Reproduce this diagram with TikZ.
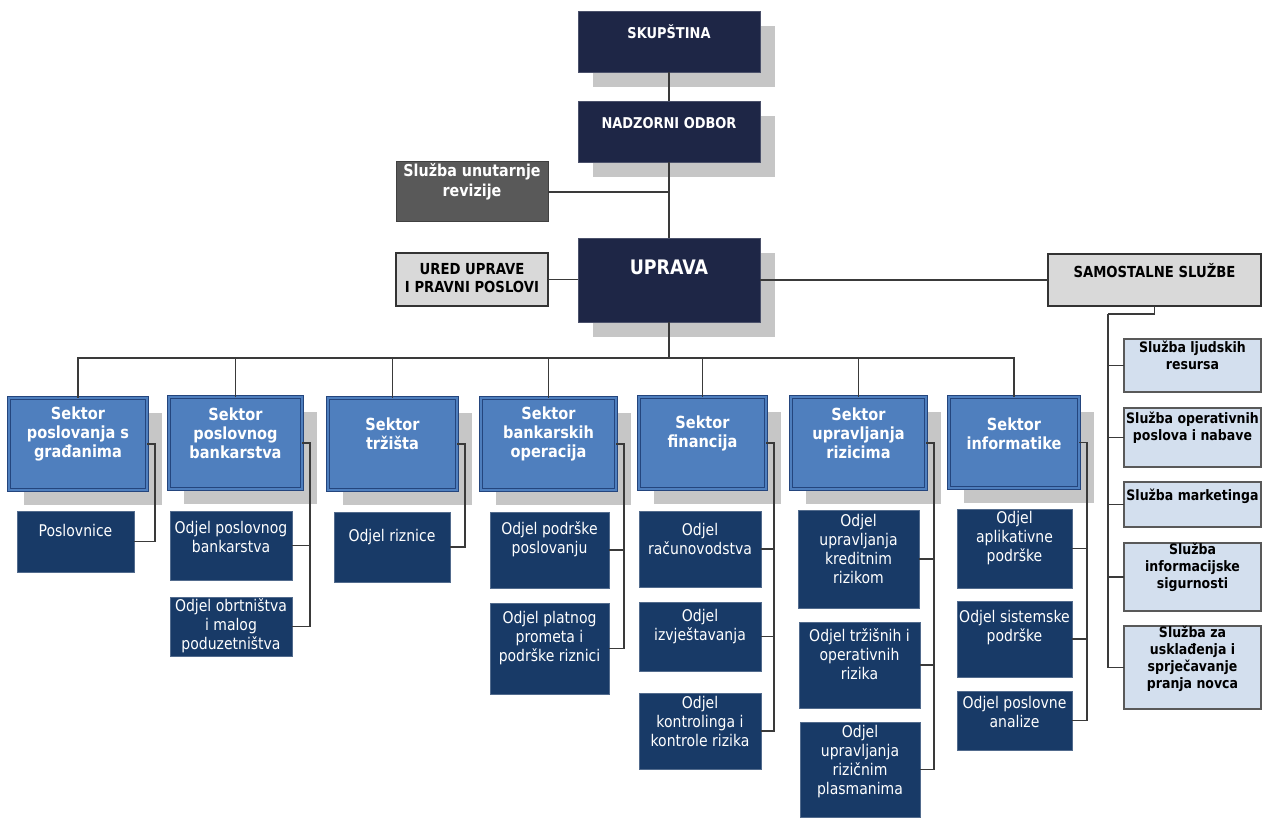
\documentclass[tikz,border=0pt]{standalone}
\usepackage{fontspec}
\setmainfont{DejaVu Sans}[FakeStretch=0.87]
\usetikzlibrary{shadows,calc}
\definecolor{navy}{HTML}{1E2646}
\definecolor{secblue}{HTML}{4F7FBE}
\definecolor{secedge}{HTML}{24457D}
\definecolor{childc}{HTML}{183A67}
\definecolor{shd}{HTML}{C6C6C6}
\definecolor{revg}{HTML}{595959}
\definecolor{lgray}{HTML}{D9D9D9}
\definecolor{lblue}{HTML}{D3DFEE}
\definecolor{connc}{HTML}{3A3A3A}
\tikzset{
  boxbase/.style={inner sep=0pt, outer sep=0pt},
  topbox/.style={boxbase, fill=navy, draw=navy!80!white, line width=0.6pt,
    drop shadow={shadow xshift=15pt, shadow yshift=-15pt, fill=shd, opacity=1}},
  secbox/.style={boxbase, fill=secblue, draw=secedge, line width=0.9pt,
    double=secblue, double distance=2.4pt,
    drop shadow={shadow xshift=15pt, shadow yshift=-15pt, fill=shd, opacity=1}},
  chbox/.style={boxbase, fill=childc, draw=childc!75!white, line width=0.6pt},
  revbox/.style={boxbase, fill=revg, draw=black!75, line width=1pt},
  graybox/.style={boxbase, fill=lgray, draw=black!80, line width=1.2pt},
  rbox/.style={boxbase, fill=lblue, draw=black!65, line width=1.2pt},
  toptxt/.style={text=white, align=center, font=\bfseries\fontsize{14.9}{19}\selectfont},
  uprtxt/.style={text=white, align=center, font=\bfseries\fontsize{20}{22}\selectfont},
  revtxt/.style={text=white, align=center, font=\bfseries\fontsize{16.4}{20}\selectfont},
  blktxt/.style={text=black, align=center, font=\bfseries\fontsize{15.2}{18}\selectfont},
  sectxt/.style={text=white, align=center, font=\bfseries\fontsize{16.7}{19}\selectfont},
  chtxt/.style={text=white, align=center, font=\fontsize{16.1}{19}\selectfont},
  rtxt/.style={text=black, align=center, font=\bfseries\fontsize{14.4}{17}\selectfont},
  conn/.style={draw=connc, line width=1.2pt},
}
% style, name, x1, y1, x2, y2, text style, text y, text
\newcommand\bxt[9]{%
  \node[#1, anchor=north west, minimum width={(#5-#3)*1pt}, minimum height={(#6-#4)*1pt}] (#2) at (#3,#4) {};
  \node[#7, inner sep=0pt] (#2t) at (#2.north |- 0,#8) {#9};
}
\begin{document}
\begin{tikzpicture}[x=1pt,y=-1pt]
\fill[white] (0,0) rectangle (1264,818);
\useasboundingbox (0,0) rectangle (1264,818);

% top
\bxt{topbox}{sk}{578}{11}{760}{72}{toptxt}{32}{SKUPŠTINA}
\bxt{topbox}{nad}{578}{101}{760}{162}{toptxt}{123}{NADZORNI ODBOR}
\bxt{revbox}{rev}{396}{162}{548}{222}{revtxt}{182}{Služba unutarnje\\revizije}
\bxt{topbox}{upr}{578}{238}{760}{322}{uprtxt}{267}{UPRAVA}
\bxt{graybox}{ured}{396}{253}{548}{306}{blktxt}{278}{URED UPRAVE\\I PRAVNI POSLOVI}
\bxt{graybox}{sam}{1048}{254}{1261}{306}{blktxt}{271}{SAMOSTALNE SLUŽBE}

% right column
\bxt{rbox}{r1}{1124}{339}{1261}{392}{rtxt}{355.5}{Služba ljudskih\\resursa}
\bxt{rbox}{r2}{1124}{408}{1261}{467}{rtxt}{427.5}{Služba operativnih\\poslova i nabave}
\bxt{rbox}{r3}{1124}{482}{1261}{527}{rtxt}{496}{Služba marketinga}
\bxt{rbox}{r4}{1124}{543}{1261}{611}{rtxt}{567}{Služba\\informacijske\\sigurnosti}
\bxt{rbox}{r5}{1124}{626}{1261}{709}{rtxt}{658.5}{Služba za\\usklađenja i\\sprječavanje\\pranja novca}

% sectors
\bxt{secbox}{s1}{9}{398}{147}{490}{sectxt}{433.5}{Sektor\\poslovanja s\\građanima}
\bxt{secbox}{s2}{169}{397}{302}{489}{sectxt}{433.5}{Sektor\\poslovnog\\bankarstva}
\bxt{secbox}{s3}{328}{398}{457}{490}{sectxt}{433.5}{Sektor\\tržišta}
\bxt{secbox}{s4}{481}{398}{616}{490}{sectxt}{433.5}{Sektor\\bankarskih\\operacija}
\bxt{secbox}{s5}{639}{397}{766}{489}{sectxt}{433.5}{Sektor\\financija}
\bxt{secbox}{s6}{791}{397}{926}{489}{sectxt}{433.5}{Sektor\\upravljanja\\rizicima}
\bxt{secbox}{s7}{949}{397}{1079}{488}{sectxt}{433.5}{Sektor\\informatike}

% departments
\bxt{chbox}{c11}{17}{511}{134}{572}{chtxt}{530}{Poslovnice}
\bxt{chbox}{c21}{170}{511}{292}{580}{chtxt}{536.5}{Odjel poslovnog\\bankarstva}
\bxt{chbox}{c22}{170}{597}{292}{656}{chtxt}{626}{Odjel obrtništva\\i malog\\poduzetništva}
\bxt{chbox}{c31}{334}{512}{450}{582}{chtxt}{537}{Odjel riznice}
\bxt{chbox}{c41}{490}{512}{609}{588}{chtxt}{539.5}{Odjel podrške\\poslovanju}
\bxt{chbox}{c42}{490}{603}{609}{694}{chtxt}{638}{Odjel platnog\\prometa i\\podrške riznici}
\bxt{chbox}{c51}{639}{511}{761}{587}{chtxt}{538.5}{Odjel\\računovodstva}
\bxt{chbox}{c52}{639}{602}{761}{671}{chtxt}{626.5}{Odjel\\izvještavanja}
\bxt{chbox}{c53}{639}{693}{761}{769}{chtxt}{721}{Odjel\\kontrolinga i\\kontrole rizika}
\bxt{chbox}{c61}{798}{510}{919}{608}{chtxt}{548.5}{Odjel\\upravljanja\\kreditnim\\rizikom}
\bxt{chbox}{c62}{799}{622}{920}{708}{chtxt}{654}{Odjel tržišnih i\\operativnih\\rizika}
\bxt{chbox}{c63}{800}{722}{920}{817}{chtxt}{761.5}{Odjel\\upravljanja\\rizičnim\\plasmanima}
\bxt{chbox}{c71}{957}{509}{1072}{588}{chtxt}{538}{Odjel\\aplikativne\\podrške}
\bxt{chbox}{c72}{957}{601}{1072}{677}{chtxt}{627.5}{Odjel sistemske\\podrške}
\bxt{chbox}{c73}{957}{691}{1072}{750}{chtxt}{711.5}{Odjel poslovne\\analize}

% connectors
\draw[conn] (sk.south) -- (nad.north);
\draw[conn] (nad.south) -- (upr.north);
\draw[conn] (rev.east) -- (rev.east -| nad.south);
\draw[conn] (ured.east) -- (ured.east -| upr.west);
\draw[conn] (upr.east) -- (upr.east -| sam.west);
\coordinate (bus) at (669,358);
\foreach \s in {s1,s2,s3,s4,s5,s6,s7}
  \draw[conn] (upr.south) -- (bus) -| (\s.north);
\foreach \s/\c in {s1/c11, s2/c21, s2/c22, s3/c31, s4/c41, s4/c42,
                   s5/c51, s5/c52, s5/c53, s6/c61, s6/c62, s6/c63,
                   s7/c71, s7/c72, s7/c73}
  \draw[conn] (\s.east) -- ++(8,0) |- (\c.east);
\coordinate (sj) at (1108,314);
\draw[conn] (sam.south) |- (sj);
\foreach \r in {r1,r2,r3,r4,r5}
  \draw[conn] (sj) |- (\r.west);
\end{tikzpicture}
\end{document}
